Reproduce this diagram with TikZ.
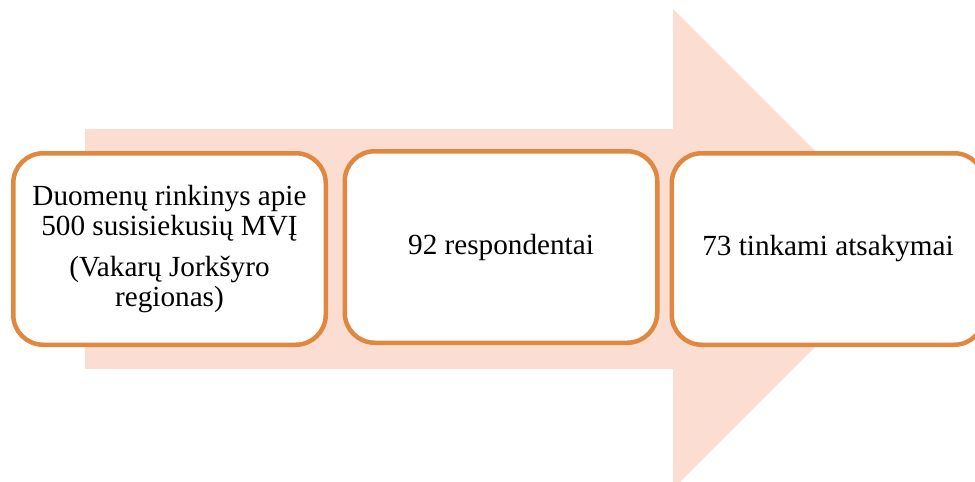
\documentclass[tikz,border=0pt]{standalone}
\usepackage{fontspec}
\setmainfont{Liberation Serif}
\newfontfamily\timesfont{Liberation Serif}
\definecolor{peach}{HTML}{FBDDD1}
\definecolor{boxorange}{HTML}{E0883F}
\tikzset{
  stagebox/.style={draw=boxorange, line width=4.5pt, fill=white, rounded corners=30pt,
    minimum width=312.5pt, minimum height=191.5pt, inner sep=0pt, align=center,
    font=\timesfont\fontsize{29.2pt}{30pt}\selectfont},
}
\begin{document}
\begin{tikzpicture}[x=1pt,y=-1pt]
\useasboundingbox (0,0) rectangle (975,482);
\clip (0,0) rectangle (975,482);
\fill[peach] (85,129) -- (673,129) -- (673,9) -- (913,249) -- (673,489) -- (673,369) -- (85,369) -- cycle;
\node[stagebox] (b1) at (169.5,249) {Duomenų rinkinys apie\\500 susisiekusių MVĮ\\[11pt](Vakarų Jorkšyro\\regionas)};
\node[stagebox] (b2) at (501,247) {92 respondentai};
\node[stagebox] (b3) at (828,249) {73 tinkami atsakymai};
\end{tikzpicture}
\end{document}
